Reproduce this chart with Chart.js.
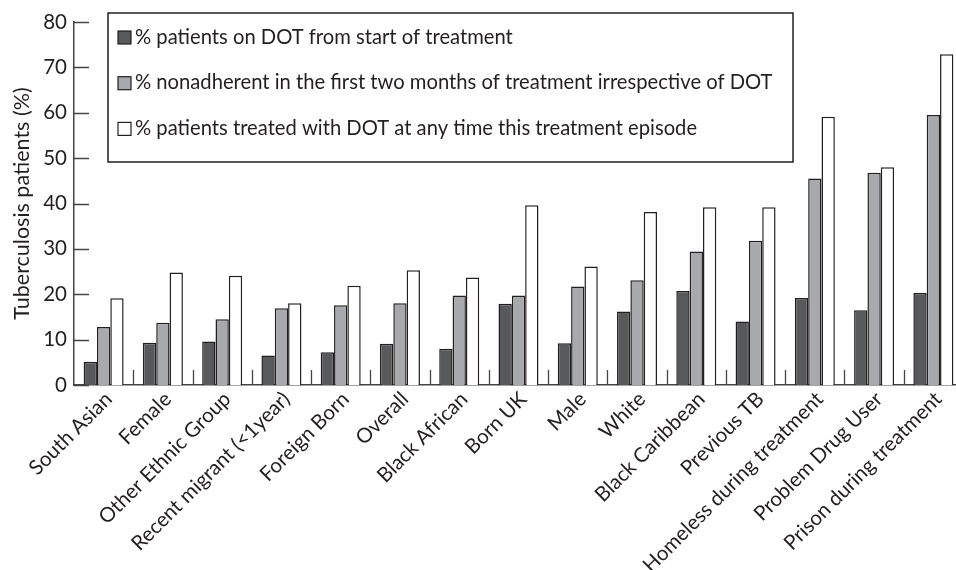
<!DOCTYPE html>
<html>
<head>
<meta charset="utf-8">
<script src="https://cdn.jsdelivr.net/npm/chart.js@4.4.1/dist/chart.umd.min.js"></script>
<style>
  html, body { margin: 0; padding: 0; background: #fff; overflow: hidden; }
  #wrap { width: 964px; height: 570px; position: relative; }
</style>
</head>
<body>
<div id="wrap"><canvas id="dotChart"></canvas></div>
<script>
// categories, left to right
const groups = ['South Asian', 'Female', 'Other Ethnic Group', 'Recent migrant (<1year)', 'Foreign Born',
    'Overall', 'Black African', 'Born UK', 'Male', 'White', 'Black Caribbean', 'Previous TB',
    'Homeless during treatment', 'Problem Drug User', 'Prison during treatment'];

const dotFromStart = [5.1, 9.3, 9.6, 6.5, 7.2, 9.1, 8.0, 17.9, 9.2, 16.2, 20.7, 14.0, 19.2, 16.5, 20.3];
const nonAdherent = [12.8, 13.7, 14.5, 16.9, 17.6, 18.0, 19.7, 19.7, 21.7, 23.1, 29.4, 31.8, 45.5, 46.8, 59.5];
const dotAnyTime = [19.1, 24.8, 24.1, 18.0, 21.9, 25.3, 23.7, 39.6, 26.1, 38.1, 39.2, 39.2, 59.1, 48.0, 72.9];

const yTicks = [0, 10, 20, 30, 40, 50, 60, 70, 80];

const FONT = 'Lato';
const INK = '#231f20';

// legend box sitting inside the plot, top left
const boxLegend = {
    id: 'boxLegend',
    afterDraw(chart) {
        const c = chart.ctx;
        const a = chart.chartArea;
        const x0 = a.left + 34, y0 = a.top - 9, w = 685, h = 149;
        c.save();
        c.strokeStyle = INK;
        c.lineWidth = 1.5;
        c.strokeRect(x0, y0, w, h);
        c.font = '20.2px ' + FONT;
        c.textBaseline = 'middle';
        chart.data.datasets.forEach((ds, i) => {
            const cy = y0 + 24 + i * 45.7;
            c.fillStyle = ds.backgroundColor;
            c.fillRect(x0 + 10, cy - 6, 13, 13);
            c.lineWidth = 1.2;
            c.strokeRect(x0 + 10, cy - 6, 13, 13);
            c.fillStyle = INK;
            c.fillText(ds.label, x0 + 27, cy);
        });
        c.restore();
    }
};

// short tick marks drawn inward from both axes
const innerTicks = {
    id: 'innerTicks',
    afterDatasetsDraw(chart) {
        const c = chart.ctx;
        const a = chart.chartArea;
        const x = chart.scales.x, y = chart.scales.y;
        c.save();
        c.strokeStyle = '#444';
        c.lineWidth = 1.3;
        c.beginPath();
        yTicks.forEach(v => {
            const py = Math.round(y.getPixelForValue(v)) + 0.5;
            c.moveTo(a.left, py);
            c.lineTo(a.left + 15, py);
        });
        for (let i = 0; i < groups.length; i++) {
            const px = Math.round((x.getPixelForValue(i) + x.getPixelForValue(i + 1)) / 2) + 0.5;
            c.moveTo(px, a.bottom);
            c.lineTo(px, a.bottom - 15);
        }
        c.stroke();
        c.restore();
    }
};

new Chart(document.getElementById('dotChart'), {
    type: 'bar',
    data: {
        labels: groups,
        datasets: [{
            label: '% patients on DOT from start of treatment',
            data: dotFromStart,
            backgroundColor: '#58595b'
        }, {
            label: '% nonadherent in the first two months of treatment irrespective of DOT',
            data: nonAdherent,
            backgroundColor: '#a7a9ac'
        }, {
            label: '% patients treated with DOT at any time this treatment episode',
            data: dotAnyTime,
            backgroundColor: '#ffffff'
        }]
    },
    options: {
        responsive: true,
        maintainAspectRatio: false,
        animation: false,
        layout: { padding: { top: 22, right: 1, left: 0, bottom: 0 } },
        datasets: {
            bar: {
                borderColor: INK,
                borderWidth: 1.5,
                categoryPercentage: 0.675,
                barPercentage: 1
            }
        },
        plugins: {
            legend: { display: false },
            tooltip: { enabled: false }
        },
        scales: {
            x: {
                grid: { display: false, drawTicks: false },
                border: { color: '#444', width: 1.5 },
                ticks: {
                    color: INK,
                    font: { family: FONT, size: 20.5 },
                    minRotation: 45,
                    maxRotation: 45,
                    padding: 2,
                    labelOffset: 5,
                    autoSkip: false
                },
                afterFit(s) { s.height = 185; }
            },
            y: {
                min: 0,
                max: 80,
                grid: { display: false, drawTicks: false },
                border: { color: '#444', width: 1.5 },
                ticks: {
                    stepSize: 10,
                    color: INK,
                    font: { family: FONT, size: 20.5 },
                    padding: 7
                },
                title: {
                    display: true,
                    text: 'Tuberculosis patients (%)',
                    color: INK,
                    font: { family: FONT, size: 21.5 },
                    padding: { top: 9, bottom: 0 }
                },
                afterFit(s) { s.width = 74; }
            }
        }
    },
    plugins: [innerTicks, boxLegend]
});
</script>
</body>
</html>
